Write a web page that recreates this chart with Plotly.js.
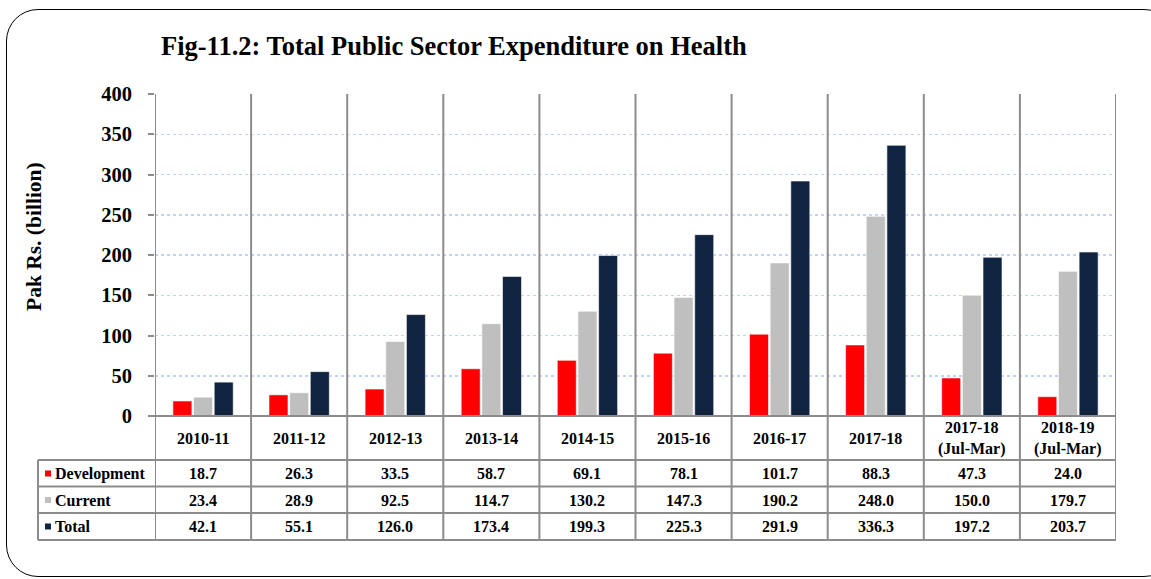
<!DOCTYPE html>
<html>
<head>
<meta charset="utf-8">
<script src="https://cdn.plot.ly/plotly-3.0.1.min.js"></script>
<style>
  html, body { margin: 0; padding: 0; background: #ffffff; }
  #frame { position: absolute; left: 6px; top: 9px; width: 1170px; height: 568px;
           border: 1.5px solid #000; border-radius: 32px; box-sizing: border-box; }
  #chart { position: absolute; left: 0; top: 0; width: 1151px; height: 579px; }
</style>
</head>
<body>
<div id="frame"></div>
<div id="chart"></div>
<script>
// ---- data ----
const categories = ["2010-11", "2011-12", "2012-13", "2013-14", "2014-15", "2015-16",
                    "2016-17", "2017-18", "2017-18<br>(Jul-Mar)", "2018-19<br>(Jul-Mar)"];
const development = [18.7, 26.3, 33.5, 58.7, 69.1, 78.1, 101.7, 88.3, 47.3, 24.0];
const current     = [23.4, 28.9, 92.5, 114.7, 130.2, 147.3, 190.2, 248.0, 150.0, 179.7];
const total       = [42.1, 55.1, 126.0, 173.4, 199.3, 225.3, 291.9, 336.3, 197.2, 203.7];
const seriesNames = ["Development", "Current", "Total"];
const seriesColors = ["#ff0000", "#bfbfbf", "#10243f"];
const seriesValues = [development, current, total];
const yTicks = [0, 50, 100, 150, 200, 250, 300, 350, 400];

// ---- layout constants (pixels) ----
const W = 1151, H = 579;
const M = { l: 155, r: 35, t: 94, b: 163 };
const plotW = W - M.l - M.r, plotH = H - M.t - M.b;
const FONT = "Liberation Serif, Times New Roman, serif";
const GRAY = "#8c8c8c";
const px2py = p => -p / plotH;           // pixels below x-axis -> paper y
const px2pxX = p => (p - M.l) / plotW;   // absolute pixel x -> paper x

const rowLines = [44, 70.5, 97, 124];    // offsets below axis of table horizontal lines
const headerCenter = 22;
const rowCenters = [57.5, 84, 110.5];
const tableLeftPx = 38;
const cellFont = { family: FONT, size: 16, color: "#000", weight: "bold" };

const traces = seriesNames.map((n, i) => ({
  type: "bar", name: n, x: categories.map((c, k) => k), y: seriesValues[i],
  marker: { color: seriesColors[i], line: { color: "#ffffff", width: 0.6 } },
  showlegend: false, hoverinfo: "y"
}));

const shapes = [];
const N = categories.length;
// x-axis (zero) line
shapes.push({ type: "line", xref: "paper", yref: "paper", x0: px2pxX(149), x1: 1, y0: 0, y1: 0,
  line: { color: GRAY, width: 2 } });
// vertical separators (category boundaries) from top of plot to bottom of table
for (let k = 0; k <= N; k++) {
  shapes.push({ type: "line", xref: "x", yref: "paper", x0: k - 0.5, x1: k - 0.5,
    y0: 1, y1: px2py(rowLines[3]), line: { color: GRAY, width: 2 } });
}
// horizontal table lines
rowLines.forEach((r) => {
  shapes.push({ type: "line", xref: "paper", yref: "paper",
    x0: px2pxX(tableLeftPx), x1: 1, y0: px2py(r), y1: px2py(r),
    line: { color: GRAY, width: 2 } });
});
// left border of legend column
shapes.push({ type: "line", xref: "paper", yref: "paper",
  x0: px2pxX(tableLeftPx), x1: px2pxX(tableLeftPx), y0: px2py(rowLines[0]), y1: px2py(rowLines[3]),
  line: { color: GRAY, width: 2 } });
// legend keys
seriesColors.forEach((c, i) => {
  const yc = rowCenters[i];
  shapes.push({ type: "rect", xref: "paper", yref: "paper",
    x0: px2pxX(45), x1: px2pxX(51), y0: px2py(yc - 3), y1: px2py(yc + 3),
    fillcolor: c, line: { width: 0 } });
});

const annotations = [];
categories.forEach((c, k) => {
  annotations.push({ xref: "x", yref: "paper", x: k, y: px2py(headerCenter),
    text: c, showarrow: false, xanchor: "center", yanchor: "middle", font: cellFont });
});
seriesValues.forEach((vals, i) => {
  vals.forEach((v, k) => {
    annotations.push({ xref: "x", yref: "paper", x: k, y: px2py(rowCenters[i]),
      text: v.toFixed(1), showarrow: false, xanchor: "center", yanchor: "middle", font: cellFont });
  });
  annotations.push({ xref: "paper", yref: "paper", x: px2pxX(53), y: px2py(rowCenters[i]),
    text: seriesNames[i], showarrow: false, xanchor: "left", yanchor: "middle", font: cellFont });
});
// y-axis title
annotations.push({ xref: "paper", yref: "paper", x: px2pxX(34), y: (416 - 237) / plotH,
  text: "Pak Rs. (billion)", textangle: -90, showarrow: false,
  xanchor: "center", yanchor: "middle",
  font: { family: FONT, size: 21.5, color: "#000", weight: "bold" } });

const layout = {
  width: W, height: H,
  margin: M,
  paper_bgcolor: "rgba(0,0,0,0)", plot_bgcolor: "rgba(0,0,0,0)",
  title: { text: "Fig-11.2: Total Public Sector Expenditure on Health",
    x: 161 / W, xanchor: "left", xref: "container", y: 1 - 46 / H, yanchor: "middle", yref: "container",
    font: { family: FONT, size: 26.5, color: "#000", weight: "bold" } },
  barmode: "group", bargap: 0.355, bargroupgap: 0.08,
  xaxis: { type: "linear", range: [-0.5, N - 0.5], showticklabels: false,
    showgrid: false, zeroline: false, showline: false, ticks: "", fixedrange: true },
  yaxis: { range: [0, 400], tickvals: yTicks, ticktext: yTicks.map(String),
    showgrid: true, gridcolor: "#c3d4f0", griddash: "dot", gridwidth: 1.5,
    zeroline: false, showline: false,
    ticks: "outside", ticklen: 6, tickwidth: 2, tickcolor: GRAY,
    tickfont: { family: FONT, size: 20.5, color: "#000", weight: "bold" },
    ticklabelstandoff: 12 },
  shapes: shapes, annotations: annotations,
  font: { family: FONT }
};

Plotly.newPlot("chart", traces, layout, { displayModeBar: false, staticPlot: true });
</script>
</body>
</html>
